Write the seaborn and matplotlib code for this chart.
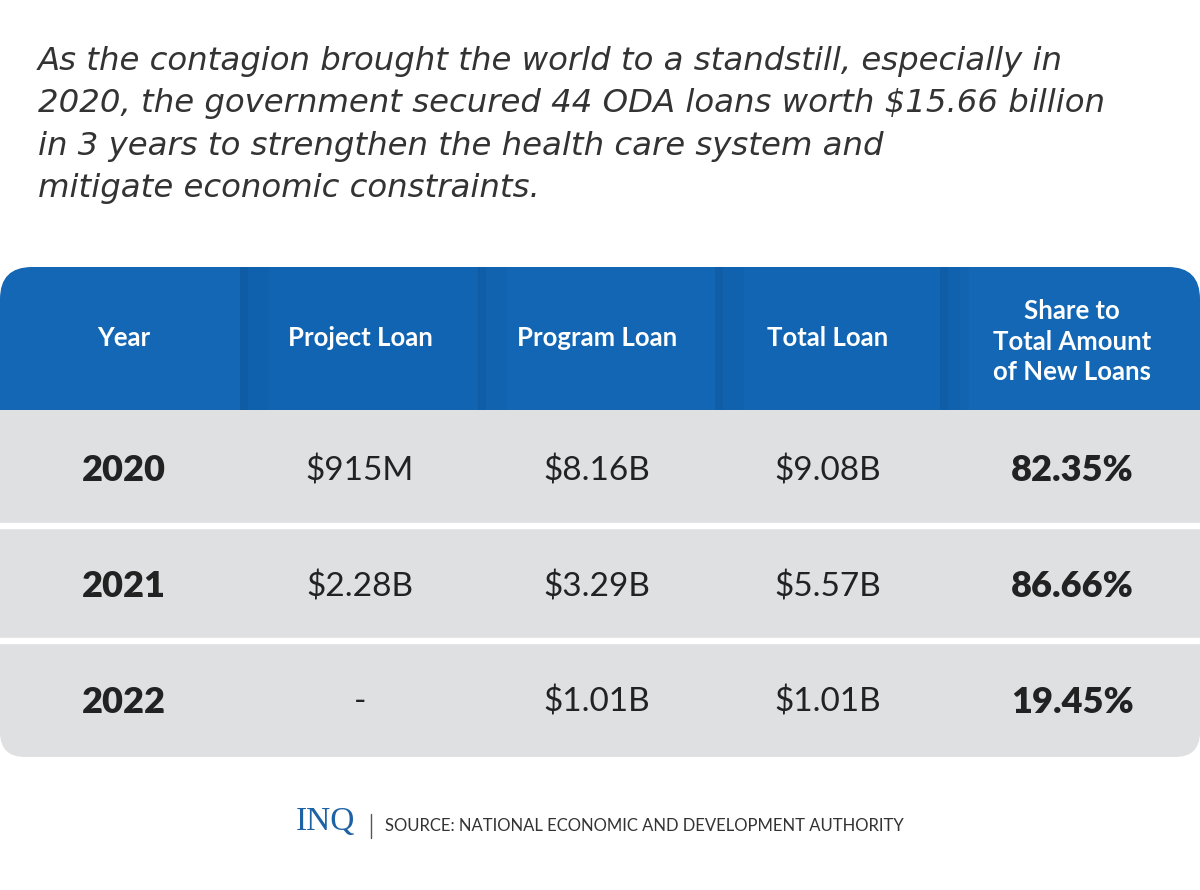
import numpy as np
import pandas as pd
import matplotlib
matplotlib.use("Agg")
import matplotlib.pyplot as plt
import seaborn as sns
from matplotlib.colors import ListedColormap
from matplotlib.patches import FancyBboxPatch
from matplotlib.lines import Line2D

# ---------------- data ----------------
columns = ["Year", "Project Loan", "Program Loan", "Total Loan",
           "Share to\nTotal Amount\nof New Loans"]
years = ["2020", "2021", "2022"]
project_loan = ["$915M", "$2.28B", "-"]
program_loan = ["$8.16B", "$3.29B", "$1.01B"]
total_loan = ["$9.08B", "$5.57B", "$1.01B"]
share_total = ["82.35%", "86.66%", "19.45%"]

title = ("As the contagion brought the world to a standstill, especially in\n"
         "2020, the government secured 44 ODA loans worth $15.66 billion\n"
         "in 3 years to strengthen the health care system and\n"
         "mitigate economic constraints.")
source = "SOURCE: NATIONAL ECONOMIC AND DEVELOPMENT AUTHORITY"

table = pd.DataFrame({
    columns[0]: years,
    columns[1]: project_loan,
    columns[2]: program_loan,
    columns[3]: total_loan,
    columns[4]: share_total,
})

# ---------------- style ----------------
sns.set_theme(style="white")
plt.rcParams["font.family"] = ["Lato", "DejaVu Sans"]

W, H = 1200, 890
fig = plt.figure(figsize=(W / 100, H / 100), dpi=100, facecolor="white")

def fx(px):
    return px / W

def fy(py):
    return 1 - py / H

BLUE_COLS = ["#1467B4", "#1164B1", "#1366B3", "#1165B2", "#1367B4"]
GREY = "#DEE0E2"
TEXT = "#222222"

head_top, head_bot, body_bot = 267, 410, 757

# header axes
ax_h = fig.add_axes([0, fy(head_bot), 1, (head_bot - head_top) / H])
hdr = np.arange(len(columns)).reshape(1, -1)
sns.heatmap(hdr, ax=ax_h, cmap=ListedColormap(BLUE_COLS), cbar=False,
            xticklabels=False, yticklabels=False, linewidths=0)
ax_h.patch.set_visible(False)
divider_x = [1.0, 1.992, 2.979, 3.917]
for d in divider_x:
    ax_h.axvspan(d, d + 0.035, color="#083E78", alpha=0.2, lw=0)
    ax_h.axvspan(d + 0.035, d + 0.12, color="#083E78", alpha=0.06, lw=0)

# body axes
ax_b = fig.add_axes([0, fy(body_bot), 1, (body_bot - head_bot) / H])
body = np.zeros((len(years), len(columns)))
sns.heatmap(body, ax=ax_b, cmap=ListedColormap([GREY]), cbar=False,
            xticklabels=False, yticklabels=False, linewidths=0)
ax_b.patch.set_visible(False)
for r in range(1, len(years)):
    ax_b.axhline(r, color="white", lw=4.6)

# rounded corner clipping
clip_h = FancyBboxPatch((0, (H - head_bot) / 100 - 0.5), W / 100,
                        (head_bot - head_top) / 100 + 0.5,
                        boxstyle="round,pad=0,rounding_size=0.32",
                        transform=fig.dpi_scale_trans)
clip_b = FancyBboxPatch((0, (H - body_bot) / 100), W / 100,
                        (body_bot - head_bot) / 100 + 0.5,
                        boxstyle="round,pad=0,rounding_size=0.25",
                        transform=fig.dpi_scale_trans)
for art in ax_h.collections + ax_h.patches:
    art.set_clip_path(clip_h)
for art in ax_b.collections + ax_b.patches + ax_b.lines:
    art.set_clip_path(clip_b)

# text positions (column centres in cell units)
xpos = [0.517, 1.50, 2.488, 3.45, 4.467]
ypos_head = [0.5, 0.5, 0.5, 0.5, 0.522]

for i, lab in enumerate(table.columns):
    ax_h.text(xpos[i], ypos_head[i], lab, ha="center", va="center",
              color="white", fontsize=18.5, fontweight="bold",
              linespacing=1.31)

for r in range(len(table)):
    for c, col in enumerate(table.columns):
        bold = c in (0, 4)
        ax_b.text(xpos[c], r + 0.5, table.iloc[r, c], ha="center",
                  va="center_baseline", color=TEXT,
                  fontsize=26 if bold else 24,
                  fontweight="heavy" if bold else "normal")

# title
fig.text(fx(38), fy(46), title, ha="left", va="top", fontsize=23.3,
         family=["DejaVu Sans"], style="oblique",
         fontweight="normal", color="#333333", linespacing=1.47)

# footer
fig.text(fx(296), fy(822), "INQ", ha="left", va="center",
         family=["Liberation Serif", "DejaVu Serif"], fontsize=24,
         color="#1E62A6")
fig.add_artist(Line2D([fx(371), fx(371)], [fy(838), fy(814)],
                      transform=fig.transFigure, color="#555555", lw=1))
fig.text(fx(385), fy(826), source, ha="left", va="center", fontsize=12,
         color="#333333")

fig.savefig("out.png", dpi=100, facecolor="white")
